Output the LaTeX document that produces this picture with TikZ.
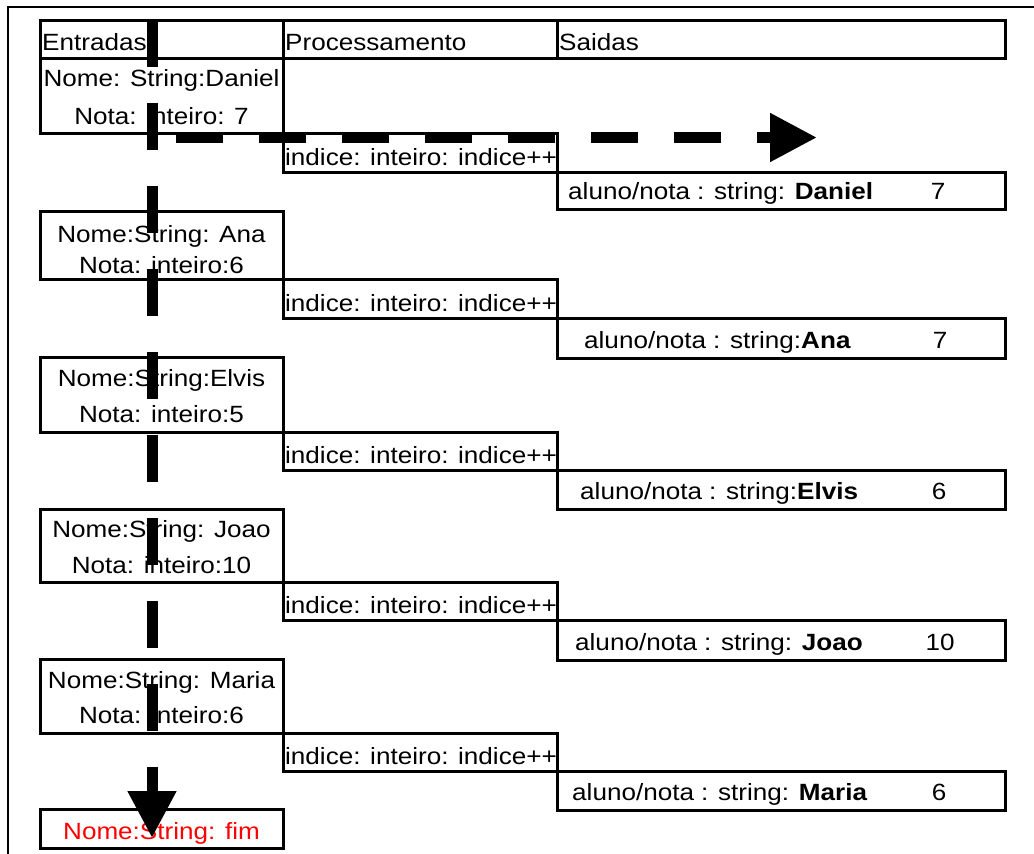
\documentclass[tikz,border=0pt]{standalone}
\usepackage{fontspec}
\setmainfont{Liberation Sans}[FakeStretch=1.11]
\usetikzlibrary{arrows.meta}
\begin{document}
\begin{tikzpicture}[x=1pt,y=-1pt,
  cell/.style={draw, rectangle, line width=3pt, inner sep=0pt},
  incol/.style={cell, minimum width=243pt},
  prcol/.style={cell, minimum width=274pt},
  outcol/.style={cell, minimum width=448pt},
  txt/.style={inner sep=0pt, font=\fontsize{23.5}{28}\selectfont},
  flow/.style={line width=11pt, dash pattern=on 47pt off 36pt,
    -{Triangle[length=47pt,width=46pt]}}]
\useasboundingbox (0,0) rectangle (1034,854);

% page frame (top and left edges)
\coordinate (fa) at (8,854);
\coordinate (fb) at (8,7);
\coordinate (fc) at (1034,7);
\draw[line width=1.6pt] (fa) -- (fb) -- (fc);

% column headers
\node[incol, minimum height=38pt] (h1) at (161.5,39) {};
\node[prcol, minimum height=38pt] (h2) at (420,39) {};
\node[outcol, minimum height=38pt] (h3) at (781,39) {};
\node[txt, anchor=base west] (h1t) at (42,50) {Entradas};
\node[txt, anchor=base west] (h2t) at (285,50) {Processamento};
\node[txt, anchor=base west] (h3t) at (559,50) {Saidas};

% inputs
\node[incol, minimum height=75pt] (e1) at (161.5,95.5) {};
\node[incol, minimum height=68pt] (e2) at (161.5,245) {};
\node[incol, minimum height=75pt] (e3) at (161.5,394.5) {};
\node[incol, minimum height=73pt] (e4) at (161.5,545.5) {};
\node[incol, minimum height=74pt] (e5) at (161.5,696) {};
\node[incol, minimum height=39pt] (e6) at (161.5,828.5) {};

\node[txt, anchor=base] (e1a) at (161.5,86) {Nome: String:Daniel};
\node[txt, anchor=base] (e1b) at (161.5,124) {Nota: inteiro: 7};
\node[txt, anchor=base] (e2a) at (161.5,242) {Nome:String: Ana};
\node[txt, anchor=base] (e2b) at (161.5,273) {Nota: inteiro:6};
\node[txt, anchor=base] (e3a) at (161.5,386) {Nome:String:Elvis};
\node[txt, anchor=base] (e3b) at (161.5,422) {Nota: inteiro:5};
\node[txt, anchor=base] (e4a) at (161.5,537) {Nome:String: Joao};
\node[txt, anchor=base] (e4b) at (161.5,573) {Nota: inteiro:10};
\node[txt, anchor=base] (e5a) at (161.5,688) {Nome:String: Maria};
\node[txt, anchor=base] (e5b) at (161.5,723) {Nota: inteiro:6};
\node[txt, anchor=base, text=red] (e6a) at (161.5,839) {Nome:String: fim};

% processing
\node[prcol, minimum height=39pt] (i1) at (420,152.5) {};
\node[prcol, minimum height=39pt] (i2) at (420,298.5) {};
\node[prcol, minimum height=38pt] (i3) at (420,451) {};
\node[prcol, minimum height=38pt] (i4) at (420,601) {};
\node[prcol, minimum height=38pt] (i5) at (420,752) {};
\node[txt, anchor=base west] (i1t) at (285,165.5) {indice: inteiro: indice++};
\node[txt, anchor=base west] (i2t) at (285,311.5) {indice: inteiro: indice++};
\node[txt, anchor=base west] (i3t) at (285,463.5) {indice: inteiro: indice++};
\node[txt, anchor=base west] (i4t) at (285,613.5) {indice: inteiro: indice++};
\node[txt, anchor=base west] (i5t) at (285,764.5) {indice: inteiro: indice++};

% outputs
\node[outcol, minimum height=37pt] (o1) at (781,190.5) {};
\node[outcol, minimum height=40pt] (o2) at (781,338) {};
\node[outcol, minimum height=39pt] (o3) at (781,489.5) {};
\node[outcol, minimum height=40pt] (o4) at (781,640) {};
\node[outcol, minimum height=39pt] (o5) at (781,790.5) {};
\node[txt, anchor=base west] (o1t) at (568,199.5) {aluno/nota : string: \textbf{Daniel}};
\node[txt, anchor=base] (o1n) at (938,199.5) {7};
\node[txt, anchor=base west] (o2t) at (584,348) {aluno/nota : string:\textbf{Ana}};
\node[txt, anchor=base] (o2n) at (940,348) {7};
\node[txt, anchor=base west] (o3t) at (580,499) {aluno/nota : string:\textbf{Elvis}};
\node[txt, anchor=base] (o3n) at (939,499) {6};
\node[txt, anchor=base west] (o4t) at (575,650) {aluno/nota : string: \textbf{Joao}};
\node[txt, anchor=base] (o4n) at (940,650) {10};
\node[txt, anchor=base west] (o5t) at (572,800) {aluno/nota : string: \textbf{Maria}};
\node[txt, anchor=base] (o5n) at (939,800) {6};

% flow arrows
\coordinate (vs) at (152,20);
\coordinate (ve) at (152,838);
\coordinate (hs) at (176,137.5);
\coordinate (he) at (817,137.5);
\draw[flow] (vs) -- (ve);
\draw[flow] (hs) -- (he);
\end{tikzpicture}
\end{document}
